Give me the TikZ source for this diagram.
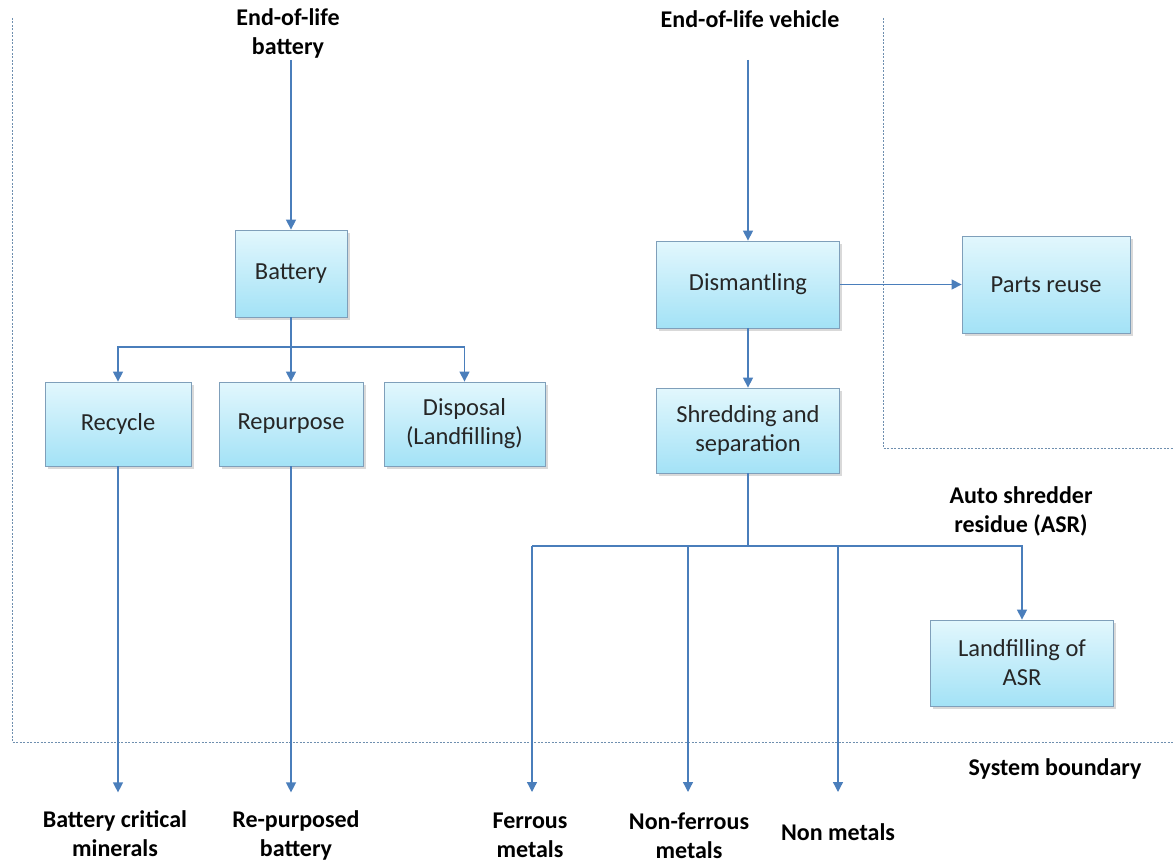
\documentclass[tikz,border=0pt]{standalone}
\usepackage{fontspec}
\setmainfont{Carlito}
\usetikzlibrary{arrows.meta,shadows}
\definecolor{flow}{HTML}{4A7EBB}
\definecolor{bound}{HTML}{6F8FAF}
\definecolor{boxline}{HTML}{7F9FBA}
\definecolor{boxtop}{HTML}{E2F7FD}
\definecolor{boxbot}{HTML}{A3E2F6}
\definecolor{boxtext}{HTML}{262626}
\tikzset{
  box/.style={draw=boxline, line width=0.8pt, top color=boxtop, bottom color=boxbot,
    text=boxtext, font=\fontsize{24.5}{29}\selectfont, align=center, inner sep=0pt,
    drop shadow={shadow xshift=2.5pt, shadow yshift=-2.5pt, opacity=0.3, fill=gray}},
  lbl/.style={font=\bfseries\fontsize{24}{29}\selectfont, align=center, inner sep=0pt},
  flowline/.style={draw=flow, line width=1.3pt},
  flowarrow/.style={flowline, -{Triangle[length=10pt,width=10pt]}},
  boundary/.style={draw=bound, line width=1pt, dash pattern=on 2pt off 1.5pt},
}
\begin{document}
\begin{tikzpicture}[x=1pt,y=-1pt]
\useasboundingbox (0,0) rectangle (1173,864);

% system boundaries
\draw[boundary] (12,18) -- (12,742) -- (1173,742);
\draw[boundary] (883,18) -- (883,448) -- (1173,448);

% process boxes
\node[box, minimum width=112pt, minimum height=87pt] (bat) at (291,273.5) {Battery};
\node[box, minimum width=146pt, minimum height=84pt] (rec) at (118,424) {Recycle};
\node[box, minimum width=144pt, minimum height=84pt] (rep) at (291,424) {Repurpose};
\node[box, minimum width=161pt, minimum height=84pt] (dis) at (464.5,424) {Disposal\\(Landfilling)};
\node[box, minimum width=183pt, minimum height=87pt] (dism) at (748,284.5) {Dismantling};
\node[box, minimum width=168pt, minimum height=97pt] (parts) at (1046,284.5) {Parts reuse};
\node[box, minimum width=183pt, minimum height=85pt] (shred) at (748,430.5) {Shredding and\\separation};
\node[box, minimum width=183pt, minimum height=86pt] (lasr) at (1022,663) {Landfilling of\\ASR};

% flow labels
\node[lbl] (eolb) at (288,33) {End-of-life\\battery};
\node[lbl] (eolv) at (750,19) {End-of-life vehicle};
\node[lbl] (asr) at (1021,511) {Auto shredder\\residue (ASR)};
\node[lbl] (sysb) at (1055,769) {System boundary};
\node[lbl] (bcm) at (115,834) {Battery critical\\minerals};
\node[lbl] (rpb) at (296,835) {Re-purposed\\battery};
\node[lbl] (fer) at (530,835) {Ferrous\\metals};
\node[lbl] (nfer) at (689,836) {Non-ferrous\\metals};
\node[lbl] (nmet) at (838,832) {Non metals};

% battery branch
\coordinate (btop) at (291,60);
\coordinate (bj) at (291,347);
\draw[flowarrow] (btop) -- (bat.north);
\draw[flowline] (bat.south) -- (bj);
\draw[flowarrow] (bj) -| (rec.north);
\draw[flowarrow] (bj) -- (rep.north);
\draw[flowarrow] (bj) -| (dis.north);
\draw[flowarrow] (rec.south) -- ++(0,326);
\draw[flowarrow] (rep.south) -- ++(0,326);

% vehicle branch
\coordinate (vtop) at (748,60);
\draw[flowarrow] (vtop) -- (dism.north);
\draw[flowarrow] (dism.east) -- (parts.west);
\draw[flowarrow] (dism.south) -- (shred.north);
\coordinate (sj) at (748,546);
\coordinate (fe) at (532,546);
\coordinate (nf) at (688,546);
\coordinate (nm) at (838,546);
\draw[flowline] (shred.south) -- (sj);
\draw[flowline] (sj) -- (fe);
\draw[flowarrow] (sj) -| (lasr.north);
\draw[flowarrow] (fe) -- ++(0,246);
\draw[flowarrow] (nf) -- ++(0,246);
\draw[flowarrow] (nm) -- ++(0,246);
\end{tikzpicture}
\end{document}
